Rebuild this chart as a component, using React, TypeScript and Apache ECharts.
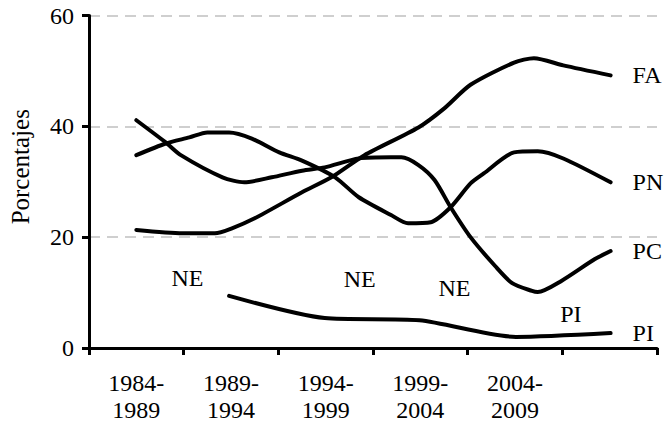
import React, { useEffect, useRef } from 'react';
import * as echarts from 'echarts';

// Category (period) labels along the x axis; last slot has no label
const periods = ['1984-\n1989', '1989-\n1994', '1994-\n1999', '1999-\n2004', '2004-\n2009', ''];

// Points as [position in period units (0..6), percentage]
const faPoints: [number, number][] = [
  [0.5, 21.3], [0.99, 20.7], [1.33, 20.7], [1.51, 21.6], [1.75, 23.4], [2.25, 28.1],
  [2.56, 30.8], [2.91, 34.8], [3.48, 39.8], [3.75, 43.2], [4.03, 47.5], [4.49, 51.5],
  [4.7, 52.3], [5.01, 51.0], [5.51, 49.2],
];
const pnPoints: [number, number][] = [
  [0.5, 34.8], [0.81, 36.9], [1.06, 38.0], [1.25, 38.9], [1.48, 38.9], [1.72, 37.8],
  [2.01, 35.3], [2.25, 33.8], [2.6, 30.8], [2.85, 27.2], [3.19, 24.0], [3.37, 22.5],
  [3.61, 22.7], [3.82, 25.4], [4.03, 29.7], [4.17, 31.5], [4.49, 35.3], [4.74, 35.5],
  [5.01, 34.2], [5.51, 29.9],
];
const pcPoints: [number, number][] = [
  [0.5, 41.1], [0.81, 37.1], [0.97, 34.8], [1.41, 30.8], [1.64, 29.9], [1.93, 30.8],
  [2.25, 32.0], [2.49, 32.6], [2.85, 34.2], [3.19, 34.4], [3.3, 34.4], [3.48, 33.0],
  [3.65, 30.3], [3.82, 25.4], [4.03, 20.0], [4.29, 14.8], [4.47, 11.7], [4.68, 10.3],
  [4.74, 10.1], [4.99, 12.1], [5.34, 16.0], [5.51, 17.5],
];
const piPoints: [number, number][] = [
  [1.48, 9.4], [2.49, 5.4], [3.49, 5.0], [4.51, 2.0], [5.51, 2.7],
];

// Annotations placed in data coordinates: [position, percentage, text]
const notes: [number, number, string][] = [
  [1.04, 12.6, 'NE'], [2.86, 12.4, 'NE'], [3.86, 10.8, 'NE'], [5.09, 6.1, 'PI'],
];

const yMin = 0;
const yMax = 60;
const yStep = 20;

export default function App() {
  const ref = useRef<HTMLDivElement>(null);
  useEffect(() => {
    document.body.style.margin = '0';
    const chart = echarts.init(ref.current!, undefined, { renderer: 'svg' });
    const font = 'Liberation Serif';
    const lineSeries = (name: string, pts: [number, number][]) => ({
      type: 'line',
      name,
      xAxisIndex: 1,
      data: pts,
      smooth: 0.25,
      showSymbol: false,
      symbol: 'none',
      silent: true,
      lineStyle: { color: '#000', width: 4, cap: 'round', join: 'round' },
      endLabel: {
        show: true,
        formatter: () => name,
        distance: 22,
        color: '#000',
        fontFamily: font,
        fontSize: 24,
      },
    });
    chart.setOption({
      animation: false,
      grid: { left: 86, right: 11, top: 15.5, bottom: 84, containLabel: false },
      xAxis: [
        {
          type: 'category',
          data: periods,
          boundaryGap: true,
          axisLine: { show: true, lineStyle: { color: '#000', width: 3 } },
          axisTick: { show: true, length: 7, lineStyle: { color: '#000', width: 3 } },
          axisLabel: {
            interval: 0,
            margin: 21,
            color: '#000',
            fontFamily: font,
            fontSize: 24,
            lineHeight: 27,
          },
          splitLine: { show: false },
        },
        { type: 'value', min: 0, max: 6, show: false },
      ],
      yAxis: {
        type: 'value',
        min: yMin,
        max: yMax,
        interval: yStep,
        name: 'Porcentajes',
        nameLocation: 'middle',
        nameGap: 56,
        nameTextStyle: { color: '#000', fontFamily: font, fontSize: 25, padding: [0, 0, 0, 30] },
        axisLine: { show: true, lineStyle: { color: '#000', width: 3 } },
        axisTick: { show: true, length: 7, lineStyle: { color: '#000', width: 3 } },
        axisLabel: { margin: 15, color: '#000', fontFamily: font, fontSize: 24 },
        splitLine: { show: true, lineStyle: { color: '#c0c0c0', width: 1.5, type: [11, 7] } },
      },
      series: [
        lineSeries('FA', faPoints),
        lineSeries('PN', pnPoints),
        lineSeries('PC', pcPoints),
        lineSeries('PI', piPoints),
        {
          type: 'scatter',
          xAxisIndex: 1,
          data: notes,
          symbolSize: 0,
          silent: true,
          itemStyle: { color: '#000' },
          label: {
            show: true,
            position: 'inside',
            formatter: (p: any) => p.data[2],
            color: '#000',
            opacity: 1,
            textBorderWidth: 0,
            fontFamily: font,
            fontSize: 24,
          },
        },
      ],
    });
    return () => chart.dispose();
  }, []);
  return <div ref={ref} style={{ width: 668, height: 432 }} />;
}
